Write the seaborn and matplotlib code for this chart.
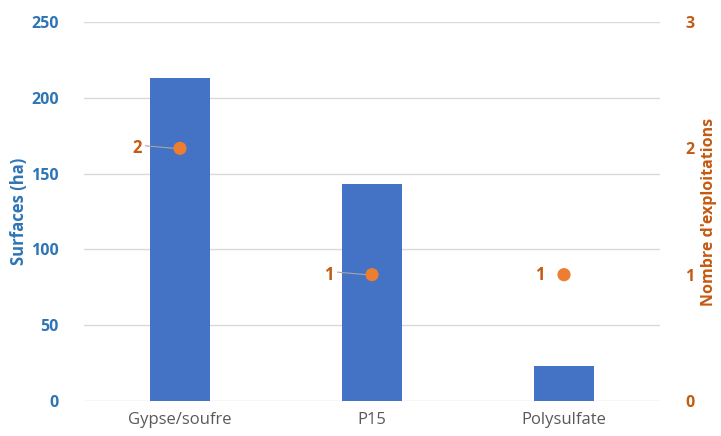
import pandas as pd
import numpy as np
import seaborn as sns
import matplotlib.pyplot as plt

categories = ["Gypse/soufre", "P15", "Polysulfate"]
surfaces = [213, 143, 23]
nb_exploitations = [2, 1, 1]

df = pd.DataFrame({"Produit": categories, "Surface": surfaces, "Nombre": nb_exploitations})

sns.set_style("white")
plt.rcParams["font.family"] = ["Open Sans", "DejaVu Sans"]

blue_bar = "#4472C4"
blue_txt = "#2E75B6"
orange = "#ED7D31"
orange_txt = "#C55A11"

fig = plt.figure(figsize=(7.21, 4.36), dpi=100)
ax = fig.add_axes([0.1165, 0.0803, 0.7989, 0.8692])

sns.barplot(data=df, x="Produit", y="Surface", color=blue_bar, width=0.31,
            saturation=1, ax=ax, zorder=2, edgecolor="none")
ax.set_ylim(0, 250)
ax.set_yticks([0, 50, 100, 150, 200, 250])
ax.set_xlim(-0.5, 2.5)
ax.grid(axis="y", color="#D9D9D9", linewidth=1, zorder=0)
ax.set_axisbelow(True)
for s in ax.spines.values():
    s.set_visible(False)
ax.tick_params(axis="y", length=0, pad=18, labelsize=11.5, labelcolor=blue_txt)
ax.tick_params(axis="x", length=0, pad=8, labelsize=12, labelcolor="#595959")
for t in ax.get_yticklabels():
    t.set_fontweight("bold")
ax.set_xlabel("")
ax.set_ylabel("Surfaces (ha)", color=blue_txt, fontsize=12, fontweight="bold", labelpad=2)

ax2 = ax.twinx()
sns.scatterplot(data=df, x="Produit", y="Nombre", color=orange, s=90, edgecolor="none",
                ax=ax2, zorder=3)
ax2.set_ylim(0, 3)
ax2.set_yticks([0, 1, 2, 3])
for s in ax2.spines.values():
    s.set_visible(False)
ax2.tick_params(axis="y", length=0, pad=18, labelsize=11.5, labelcolor=orange_txt)
for t in ax2.get_yticklabels():
    t.set_fontweight("bold")
ax2.set_ylabel("Nombre d'exploitations", color=orange_txt, fontsize=11.5, fontweight="bold", labelpad=5)

# data labels with leader lines
offsets = [-0.2, -0.2, -0.1]
for i, (v, off) in enumerate(zip(nb_exploitations, offsets)):
    ax2.text(i + off, v, str(v), color=orange_txt, fontsize=12, fontweight="bold",
             ha="right", va="center")
    if off < -0.15:
        ax2.plot([i + off + 0.02, i - 0.03], [v + 0.02, v], color="#A6A6A6", lw=0.8, zorder=2)

fig.savefig("out.png", dpi=100)
